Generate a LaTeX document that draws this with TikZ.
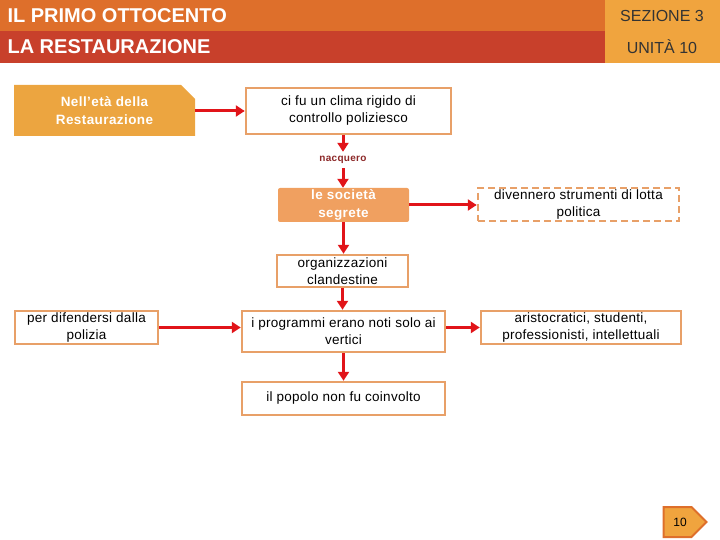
\documentclass[tikz,border=0pt]{standalone}
\usepackage{fontspec}
\setmainfont{Liberation Sans}
\newfontfamily\spacedfont[LetterSpace=2]{Liberation Sans}
\newfontfamily\widefont[LetterSpace=3]{Liberation Sans}
\usetikzlibrary{positioning,arrows.meta,shapes.misc,shapes.symbols}

\definecolor{headorange}{RGB}{222,111,43}
\definecolor{headred}{RGB}{200,64,43}
\definecolor{tabyellow}{RGB}{240,164,62}
\definecolor{boxline}{RGB}{232,160,104}
\definecolor{startfill}{RGB}{236,165,64}
\definecolor{keyfill}{RGB}{240,160,96}
\definecolor{arrowred}{RGB}{225,20,25}
\definecolor{labelred}{RGB}{140,40,40}

\tikzset{
    textbox/.style={draw=boxline, line width=2.5pt, fill=white, align=center, inner sep=0pt,
        font=\spacedfont\fontsize{13.5}{17}\selectfont},
    keybox/.style={fill=keyfill, rounded corners=2pt, align=center, inner sep=0pt, text=white,
        font=\widefont\bfseries\fontsize{13.5}{18}\selectfont},
    link/.style={draw=arrowred, line width=3pt, -{Triangle[length=9pt,width=11pt]}},
    headtext/.style={anchor=west, text=white, font=\bfseries\fontsize{20}{20}\selectfont},
    tabtext/.style={text=black!80, font=\fontsize{16}{16}\selectfont},
}

\begin{document}
\begin{tikzpicture}[x=1pt, y=-1pt]
    \useasboundingbox (0,0) rectangle (720,540);

    % Header bars
    \fill[headorange] (0,0) rectangle (605,31);
    \fill[headred] (0,31) rectangle (605,63);
    \fill[tabyellow] (605,0) rectangle (720,63);
    \node[headtext] (era) at (4,16) {IL PRIMO OTTOCENTO};
    \node[headtext] (topic) at (4,47) {LA RESTAURAZIONE};
    \node[tabtext] (section) at (662,16) {SEZIONE 3};
    \node[tabtext] (unit) at (662,47) {UNITÀ 10};

    % Boxes
    \node[chamfered rectangle, chamfered rectangle corners=north east,
        chamfered rectangle xsep=7pt, chamfered rectangle ysep=7pt,
        fill=startfill, inner sep=0pt, minimum width=181pt, minimum height=51pt,
        align=center, text=white, font=\widefont\bfseries\fontsize{13.5}{18}\selectfont]
        (start) at (104.5,110.5) {Nell’età della\\Restaurazione};
    \node[textbox, minimum width=205pt, minimum height=46pt] (clima) at (348.5,111)
        {ci fu un clima rigido di\\controllo poliziesco};
    \node[inner sep=0pt, minimum height=16pt, text=labelred,
        font=\widefont\bfseries\fontsize{10}{10}\selectfont] (born) at (343,160) {nacquero};
    \node[keybox, minimum width=131pt, minimum height=34pt] (sects) at (343.5,205)
        {le società\\segrete};
    \node[textbox, dashed, dash pattern=on 7pt off 4pt, minimum width=201pt, minimum height=33pt]
        (tools) at (578.5,204.5) {divennero strumenti di lotta\\politica};
    \node[textbox, minimum width=131pt, minimum height=32pt] (secret) at (342.5,271)
        {organizzazioni\\clandestine};
    \node[textbox, minimum width=143pt, minimum height=33pt] (police) at (86.5,327.5)
        {per difendersi dalla\\polizia};
    \node[textbox, minimum width=203pt, minimum height=41pt] (prog) at (343.5,331.5)
        {i programmi erano noti solo ai\\vertici};
    \node[textbox, minimum width=200pt, minimum height=33pt] (members) at (581,327.5)
        {aristocratici, studenti,\\professionisti, intellettuali};
    \node[textbox, minimum width=203pt, minimum height=33pt] (people) at (343.5,398.5)
        {il popolo non fu coinvolto};

    % Arrows
    \draw[link] (start.east |- clima.west) -- (clima.west);
    \draw[link] (clima.south -| born.north) -- (born.north);
    \draw[link] (born.south) -- (born.south |- sects.north);
    \draw[link] (sects.east) -- (sects.east -| tools.west);
    \draw[link] (sects.south) -- (sects.south |- secret.north);
    \draw[link] (secret.south) -- (secret.south |- prog.north);
    \draw[link] (police.east) -- (police.east -| prog.west);
    \draw[link] (prog.east |- members.west) -- (members.west);
    \draw[link] (prog.south) -- (prog.south |- people.north);

    % Page number
    \node[signal, signal to=east, signal pointer angle=90, fill=tabyellow, draw=headorange,
        line width=2pt, inner sep=0pt, minimum width=43pt, minimum height=30pt,
        font=\fontsize{12}{12}\selectfont] (page) at (677.5,522) {\hspace{5pt}10};
\end{tikzpicture}
\end{document}
